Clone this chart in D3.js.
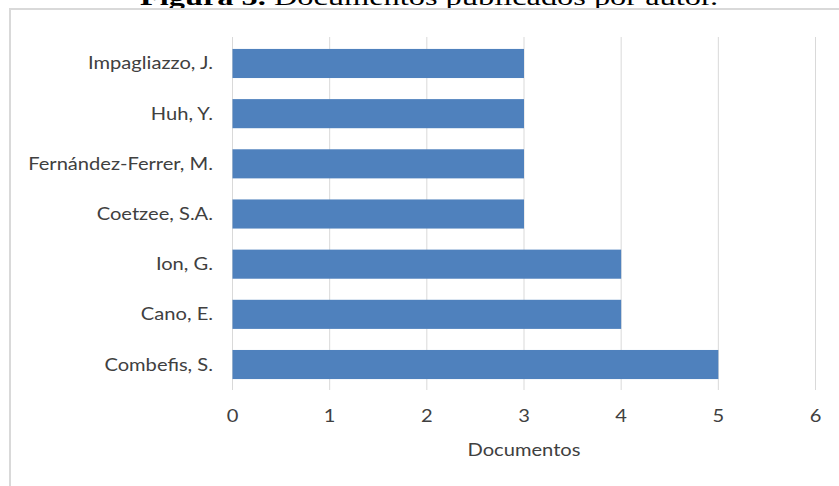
<!DOCTYPE html>
<html><head><meta charset="utf-8">
<script src="https://cdn.jsdelivr.net/npm/d3@7"></script>
<style>body{margin:0;background:#fff;}svg{display:block;}</style>
</head><body>
<script>
const authors = ["Impagliazzo, J.","Huh, Y.","Fernández-Ferrer, M.","Coetzee, S.A.","Ion, G.","Cano, E.","Combefis, S."];
const documents = [3,3,3,3,4,4,5];
const xTicks = [0,1,2,3,4,5,6];
const titleBold = "Figura 5.";
const titleRest = " Documentos publicados por autor.";
const xTitle = "Documentos";

const W=839,H=486;
const svg=d3.select("body").append("svg").attr("width",W).attr("height",H);
// title (cut off at top, as in the reference)
const t=svg.append("text").attr("x",140).attr("y",4.5)
  .attr("textLength",578).attr("lengthAdjust","spacingAndGlyphs")
  .attr("font-family","Liberation Serif, Times New Roman, serif").attr("font-size",24).attr("fill","#000");
t.append("tspan").attr("font-weight","bold").text(titleBold);
t.append("tspan").text(titleRest);
// chart border
svg.append("rect").attr("x",10).attr("y",9).attr("width",W+20).attr("height",H+20)
  .attr("fill","none").attr("stroke","#d9d9d9").attr("stroke-width",2);

const x=d3.scaleLinear().domain([0,6]).range([232.5,815.5]);
const y=d3.scaleBand().domain(authors).range([38.4,389.6]).paddingInner(0.42).paddingOuter(0.21);

svg.append("g").selectAll("line").data(xTicks).join("line")
  .attr("x1",d=>x(d)).attr("x2",d=>x(d)).attr("y1",37).attr("y2",390)
  .attr("stroke","#d9d9d9").attr("stroke-width",1);

svg.append("g").selectAll("rect").data(authors).join("rect")
  .attr("x",x(0)).attr("y",d=>y(d)).attr("height",y.bandwidth())
  .attr("width",(d,i)=>x(documents[i])-x(0)).attr("fill","#4f81bd");

const font="Lato, Open Sans, sans-serif";
const fs=16.5, sx=1.22, col="#404040";
function label(g, px, py, anchor, txt){
  g.append("g").attr("transform",`translate(${px},${py}) scale(${sx},1)`)
   .append("text").attr("text-anchor",anchor).attr("font-family",font)
   .attr("font-size",fs).attr("fill",col).text(txt);
}
const gy=svg.append("g");
authors.forEach(a=>label(gy,213,y(a)+y.bandwidth()/2+6,"end",a));
const gx=svg.append("g");
xTicks.forEach(v=>label(gx,x(v),422,"middle",v));
label(svg,x(3),456,"middle",xTitle);
</script>
</body></html>
